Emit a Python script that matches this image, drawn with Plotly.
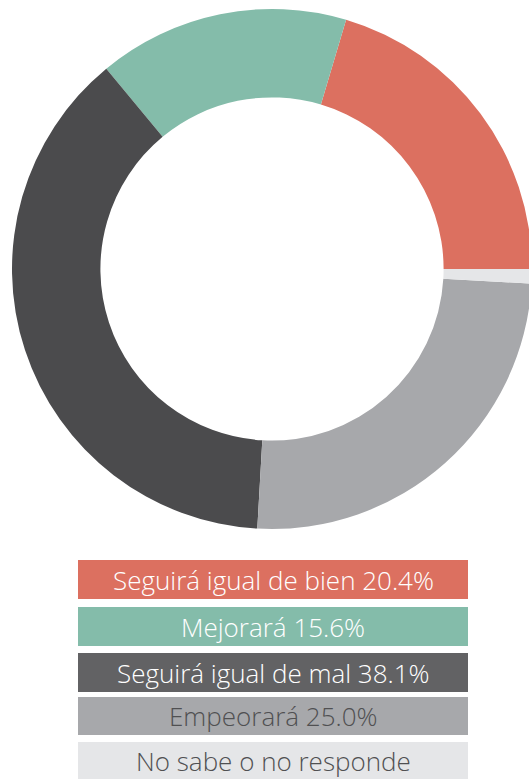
import plotly.graph_objects as go

labels = ["Seguirá igual de bien", "Mejorará", "Seguirá igual de mal", "Empeorará", "No sabe o no responde"]
values = [20.4, 15.6, 38.1, 25.0, 0.9]
show_pct = [True, True, True, True, False]

slice_colors = ["#DC7060", "#84BCAA", "#4B4B4D", "#A7A8AB", "#E5E6E8"]
box_colors = ["#DC7060", "#84BCAA", "#626264", "#A7A8AB", "#E5E6E8"]
text_colors = ["#FFFFFF", "#FFFFFF", "#FFFFFF", "#505052", "#505052"]

# figure is a bit wider than the window so the ring gets clipped on the right like the original
W, H = 540, 779

# plotly's counterclockwise mode ends the first slice at `rotation`;
# we want the first slice to start at 3 o'clock
first_deg = values[0] / sum(values) * 360
rotation = 90 - first_deg

fig = go.Figure()
fig.add_trace(go.Pie(
    labels=labels,
    values=values,
    sort=False,
    direction="counterclockwise",
    rotation=rotation,
    hole=0.66,
    marker=dict(colors=slice_colors, line=dict(width=0)),
    textinfo="none",
    hoverinfo="label+percent",
    showlegend=False,
    domain=dict(x=[12 / W, 532 / W], y=[1 - 530 / H, 1 - 8 / H]),
))

# custom legend: coloured bars with label text
box_top = [560, 607, 653, 697, 742]
box_bot = [599, 646, 692, 735, 779]
x0, x1 = 78, 468
for i, lab in enumerate(labels):
    txt = f"{lab} {values[i]:.1f}%" if show_pct[i] else lab
    fig.add_shape(type="rect", xref="paper", yref="paper",
                  x0=x0 / W, x1=x1 / W, y0=1 - box_bot[i] / H, y1=1 - box_top[i] / H,
                  fillcolor=box_colors[i], line=dict(width=0), layer="below")
    fig.add_annotation(xref="paper", yref="paper",
                       x=(x0 + x1) / 2 / W, y=1 - (box_top[i] + box_bot[i]) / 2 / H,
                       text=txt, showarrow=False, xanchor="center", yanchor="middle",
                       font=dict(family="Open Sans", size=26, weight=300, color=text_colors[i]))

fig.update_layout(
    width=W, height=H,
    margin=dict(l=0, r=0, t=0, b=0),
    paper_bgcolor="white",
    plot_bgcolor="white",
)

fig.write_html("out.html", config={"displayModeBar": False},
               post_script="document.body.style.margin='0';document.body.style.overflow='hidden';")
